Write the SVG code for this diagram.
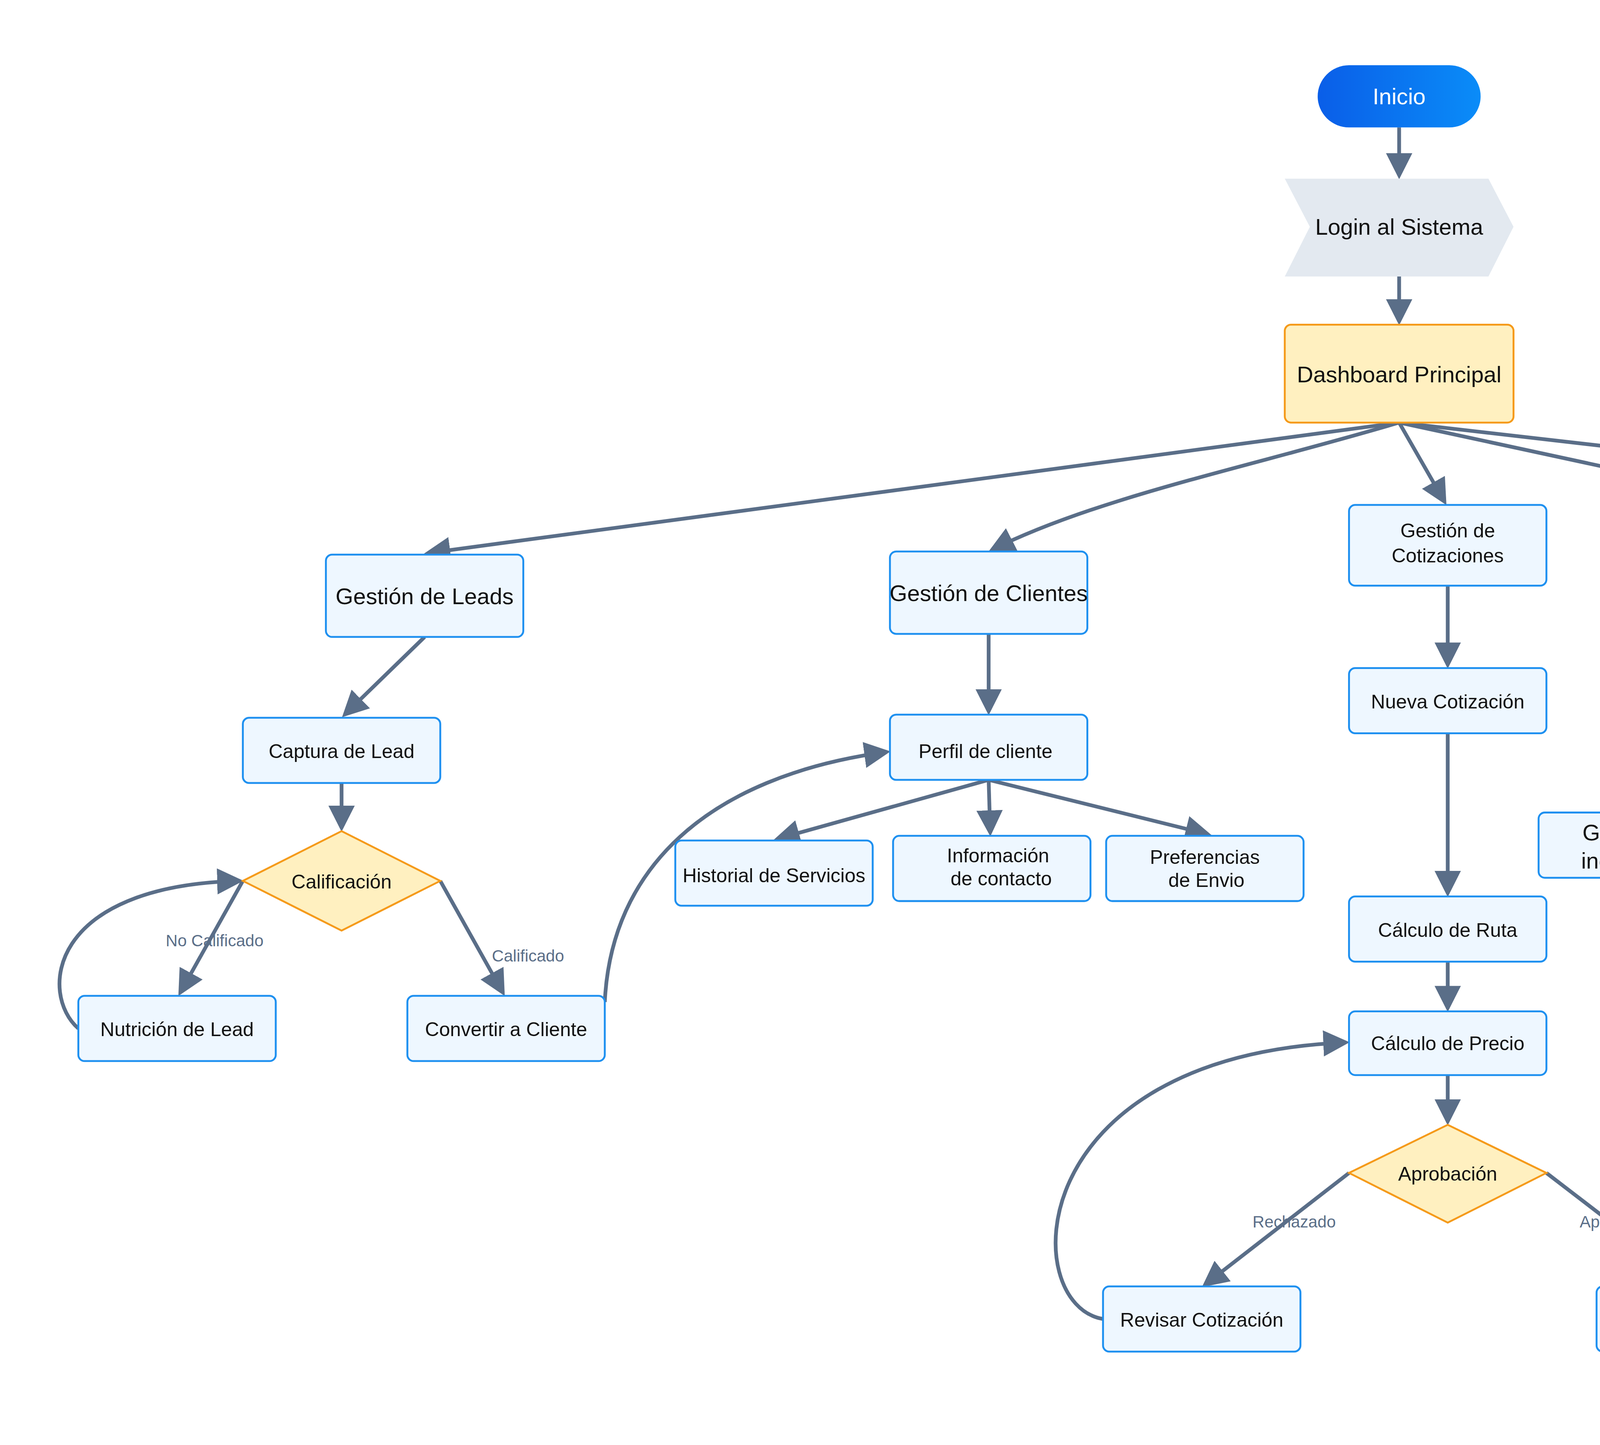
<svg xmlns="http://www.w3.org/2000/svg" width="6225" height="3700" viewBox="0 0 6225 3700">
<style>
.n{fill:#eef7ff;stroke:#1e90f0;stroke-width:1.2}
.d{fill:#fff0c0;stroke:#f59a1a;stroke-width:1.2}
.t{font-family:"Liberation Sans",Arial,sans-serif;font-size:12.5px;fill:#111;text-anchor:middle}
.tl{font-family:"Liberation Sans",Arial,sans-serif;font-size:14.5px;fill:#111;text-anchor:middle}
.e{fill:none;stroke:#5a6e88;stroke-width:2.4;marker-end:url(#a)}
.l{font-family:"Liberation Sans",Arial,sans-serif;font-size:10.5px;fill:#5a6e88;text-anchor:middle}
.lg{font-family:"Liberation Sans",Arial,sans-serif;font-size:13px;fill:#aab4c0;text-anchor:middle}
</style>
<defs>
<marker id="a" markerWidth="7" markerHeight="7" refX="6" refY="3.5" orient="auto" markerUnits="strokeWidth"><path d="M0,0L7,3.5L0,7z" fill="#5a6e88"/></marker>
<linearGradient id="g" x1="0" y1="0" x2="1" y2="0"><stop offset="0" stop-color="#0a5ee8"/><stop offset="1" stop-color="#0a8cf8"/></linearGradient>
</defs>
<rect width="6225" height="3700" fill="#fff"/>
<g transform="scale(4.011,3.978)">
<g id="edges">
<path class="e" d="M893,82V113"/>
<path class="e" d="M893,178V207"/>
<path class="e" d="M893,272L273,356"/>
<path class="e" d="M893,272C800,300 700,320 633,354"/>
<path class="e" d="M893,272L922,323"/>
<path class="e" d="M893,272L1132,324"/>
<path class="e" d="M893,272L1342,324"/>
<path class="e" d="M271,410L220,460"/>
<path class="e" d="M218,504V533"/>
<path class="e" d="M155,567L115,639"/>
<path class="e" d="M281,567L321,639"/>
<path class="e" d="M50,662C25,640 30,570 153,567"/>
<path class="e" d="M386,645C390,560 450,500 566,484"/>
<path class="e" d="M631,408V458"/>
<path class="e" d="M631,502L496,540"/>
<path class="e" d="M631,502L632,536"/>
<path class="e" d="M631,502L771,537"/>
<path class="e" d="M924,377V428"/>
<path class="e" d="M924,472V575"/>
<path class="e" d="M924,619V649"/>
<path class="e" d="M924,692V722"/>
<path class="e" d="M861,755L769,827"/>
<path class="e" d="M987,755L1080,827"/>
<path class="e" d="M704,849C650,840 650,680 859,671"/>
<path class="e" d="M1145,828C1168,800 1162,700 1163,560C1164,470 1160,420 1146,380"/>
<path class="e" d="M1129,377V428"/>
<path class="e" d="M1129,472L1047,522"/>
<path class="e" d="M1129,472L1211,522"/>
<path class="e" d="M1268,565L1314,595"/>
<path class="e" d="M1253,627L1223,688"/>
<path class="e" d="M1380,627L1410,688"/>
<path class="e" d="M1208,690V567"/>
<path class="e" d="M1344,377L1262,429"/>
<path class="e" d="M1344,377L1426,429"/>
<path class="e" d="M1344,377V501"/>
<text class="l" x="137" y="609">No Calificado</text>
<text class="l" x="337" y="619">Calificado</text>
<text class="l" x="826" y="790">Rechazado</text>
<text class="l" x="1031" y="790">Aprobado</text>
<text class="lg" x="1233" y="649">No</text>
<text class="lg" x="1398" y="650">Si</text>
</g>
<g id="inicio"><rect x="841" y="42" width="104" height="40" rx="20" fill="url(#g)"/><text class="tl" x="893" y="67" fill="#fff" style="fill:#fff">Inicio</text></g>
<g id="login"><path d="M820,115H950L966,146L950,178H820L836,146Z" fill="#e3e9f0"/><text class="tl" x="893" y="151">Login al Sistema</text></g>
<g id="dashboard"><rect x="820" y="209" width="146" height="63" rx="4" class="d"/><text class="tl" x="893" y="246">Dashboard Principal</text></g>
<g id="leads"><rect x="208" y="357" width="126" height="53" rx="4" class="n"/><text class="tl" x="271" y="389">Gestión de Leads</text></g>
<g id="clientes"><rect x="568" y="355" width="126" height="53" rx="4" class="n"/><text class="tl" x="631" y="387">Gestión de Clientes</text></g>
<g id="cotizaciones"><rect x="861" y="325" width="126" height="52" rx="4" class="n"/><text class="t" x="924" y="346">Gestión de</text><text class="t" x="924" y="362">Cotizaciones</text></g>
<g id="ordenes"><rect x="1071" y="325" width="126" height="52" rx="4" class="n"/><text class="tl" x="1138" y="346">Gestión de</text><text class="tl" x="1138" y="364">órdenes</text></g>
<g id="reportes"><rect x="1281" y="325" width="126" height="52" rx="4" class="n"/><text class="t" x="1341" y="349">Reportes y</text><text class="t" x="1343" y="364">Analiticas</text></g>
<g id="captura"><rect x="155" y="462" width="126" height="42" rx="4" class="n"/><text class="t" x="218" y="488">Captura de Lead</text></g>
<g id="calificacion"><path d="M218,535L281,567L218,599L155,567Z" class="d"/><text class="t" x="218" y="572">Calificación</text></g>
<g id="nutricion"><rect x="50" y="641" width="126" height="42" rx="4" class="n"/><text class="t" x="113" y="667">Nutrición de Lead</text></g>
<g id="convertir"><rect x="260" y="641" width="126" height="42" rx="4" class="n"/><text class="t" x="323" y="667">Convertir a Cliente</text></g>
<g id="perfil"><rect x="568" y="460" width="126" height="42" rx="4" class="n"/><text class="t" x="629" y="488">Perfil de cliente</text></g>
<g id="historial"><rect x="431" y="541" width="126" height="42" rx="4" class="n"/><text class="t" x="494" y="568">Historial de Servicios</text></g>
<g id="info"><rect x="570" y="538" width="126" height="42" rx="4" class="n"/><text class="t" x="637" y="555">Información</text><text class="t" x="639" y="570">de contacto</text></g>
<g id="preferencias"><rect x="706" y="538" width="126" height="42" rx="4" class="n"/><text class="t" x="769" y="556">Preferencias</text><text class="t" x="770" y="571">de Envio</text></g>
<g id="nueva"><rect x="861" y="430" width="126" height="42" rx="4" class="n"/><text class="t" x="924" y="456">Nueva Cotización</text></g>
<g id="ruta"><rect x="861" y="577" width="126" height="42" rx="4" class="n"/><text class="t" x="924" y="603">Cálculo de Ruta</text></g>
<g id="precio"><rect x="861" y="651" width="126" height="41" rx="4" class="n"/><text class="t" x="924" y="676">Cálculo de Precio</text></g>
<g id="aprobacion"><path d="M924,724L987,755L924,787L861,755Z" class="d"/><text class="t" x="924" y="760">Aprobación</text></g>
<g id="revisar"><rect x="704" y="828" width="126" height="42" rx="4" class="n"/><text class="t" x="767" y="854">Revisar Cotización</text></g>
<g id="crear"><rect x="1019" y="828" width="126" height="42" rx="4" class="n"/><text class="t" x="1082" y="854">Crear Orden</text></g>
<g id="seguimiento"><rect x="1066" y="430" width="126" height="42" rx="4" class="n"/><text class="tl" x="1129" y="447">Seguimiento de</text><text class="tl" x="1129" y="464">órdenes</text></g>
<g id="kpis"><rect x="1197" y="430" width="126" height="42" rx="4" class="n"/><text class="t" x="1260" y="456">KPIs Principales</text></g>
<g id="ingresos"><rect x="1365" y="430" width="126" height="42" rx="4" class="n"/><text class="t" x="1428" y="456">Ingresos</text></g>
<g id="rendimiento"><rect x="1281" y="503" width="126" height="42" rx="4" class="n"/><text class="t" x="1344" y="529">Rendimiento</text></g>
<g id="incidencias"><rect x="982" y="523" width="126" height="42" rx="4" class="n"/><text class="tl" x="1045" y="541">Gestión de</text><text class="tl" x="1045" y="559">incidencias</text></g>
<g id="estado"><rect x="1150" y="523" width="126" height="42" rx="4" class="n"/><text class="tl" x="1213" y="541">Estado en</text><text class="tl" x="1215" y="559">tiempo real</text></g>
<g id="entregado"><path d="M1316,596L1380,627L1316,659L1253,627Z" class="d"/><text class="t" x="1316" y="632">¿Entregado?</text></g>
<g id="actualizar"><rect x="1159" y="690" width="126" height="42" rx="4" class="n"/><text class="t" x="1222" y="717">Actualizar Estado</text></g>
<g id="solicitar"><rect x="1348" y="690" width="126" height="42" rx="4" class="n"/><text class="t" x="1411" y="717">Solicitar Reseña</text></g>
</g>
</svg>
